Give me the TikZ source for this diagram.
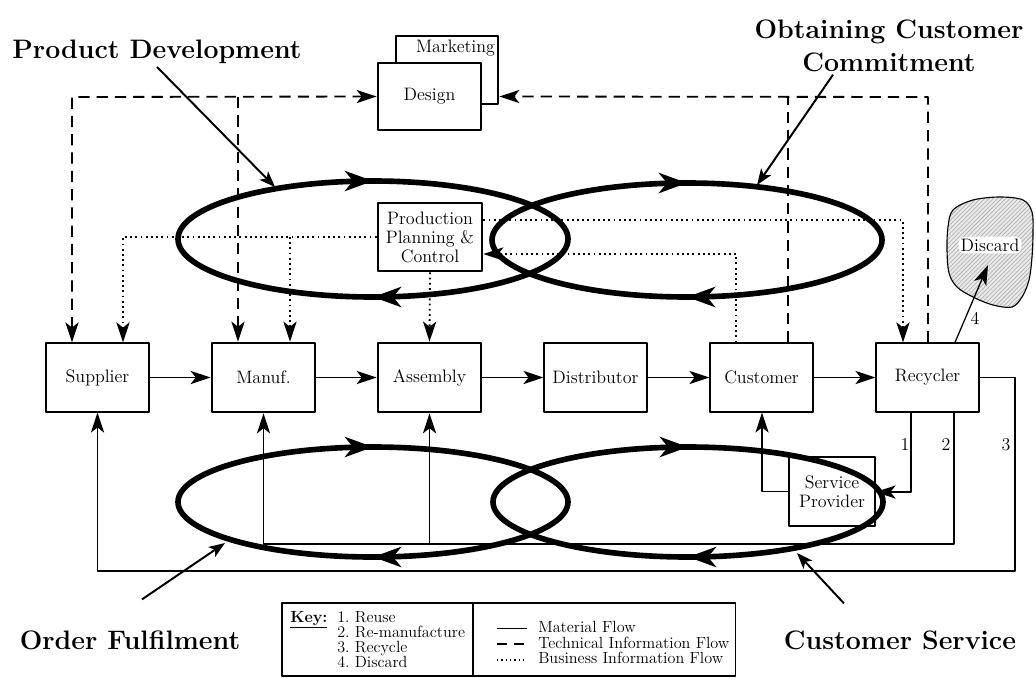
\documentclass[tikz,border=0pt]{standalone}
\usepackage{tikz}
\usetikzlibrary{arrows.meta, decorations.markings, patterns, positioning, calc}

\newcommand{\boxfont}{\fontsize{12.8}{13.5}\selectfont}
\newcommand{\titlefont}{\fontsize{19}{23}\selectfont\bfseries}
\newcommand{\keyfont}{\fontsize{11.5}{10.6}\selectfont}

\tikzset{
  flowbox/.style={draw, line width=0.9pt, minimum width=2.575cm, minimum height=1.725cm,
                  font=\boxfont, align=center, inner sep=1pt},
  heavybox/.style={flowbox, line width=2pt},
  tip/.style={-{Stealth[length=5mm, width=3.3mm, inset=1.3mm]}},
  mat/.style={line width=0.9pt, tip},
  tech/.style={line width=1.3pt, dash pattern=on 8pt off 5pt, tip},
  biz/.style={line width=1.3pt, dash pattern=on 1.3pt off 2.4pt, tip},
  pointer/.style={line width=1.4pt, -{Stealth[length=4mm, width=3mm, inset=1mm]}},
  ring/.style={line width=4pt, postaction={decorate},
    decoration={markings,
      mark=at position 0.25 with {\arrow{Stealth[length=7mm, width=5mm, inset=2mm]}},
      mark=at position 0.75 with {\arrow{Stealth[length=7mm, width=5mm, inset=2mm]}}}},
  title/.style={font=\titlefont, align=center, inner sep=2pt},
  num/.style={font=\boxfont, inner sep=1pt}
}

\begin{document}
\begin{tikzpicture}[x=0.025cm, y=-0.025cm, line join=round]

    % frame
    \useasboundingbox (0,0) rectangle (1036,677);

    % =========================
    % MAIN CHAIN
    % =========================
    \node[flowbox]  (supplier)    at (97.5,377.5)  {Supplier};
    \node[heavybox] (manuf)       at (263.5,377.5) {Manuf.};
    \node[heavybox] (assembly)    at (429.5,377.5) {Assembly};
    \node[flowbox]  (distributor) at (595.5,377.5) {Distributor};
    \node[flowbox]  (customer)    at (761.5,377.5) {Customer};
    \node[flowbox]  (recycler)    at (927.5,377.5) {Recycler};

    % =========================
    % UPPER BOXES
    % =========================
    \node[heavybox, minimum width=2.55cm, minimum height=1.7cm,
          label={[font=\boxfont, anchor=north east, inner sep=0pt, xshift=-3pt, yshift=-4pt]north east:Marketing}]
          (marketing) at (447,70) {};
    \node[heavybox, fill=white, minimum height=1.675cm] (design) at (429.5,96.5) {Design};
    \node[heavybox, minimum width=2.6cm, minimum height=1.7cm] (ppc) at (430,237)
          {Production\\Planning \&\\Control};
    \node[flowbox, minimum width=2.15cm] (service) at (832,491.5) {Service\\Provider};

    % =========================
    % DISCARD
    % =========================
    \draw[line width=0.8pt, preaction={fill=gray!18}, pattern=north east lines, pattern color=gray!65]
        plot[smooth cycle, tension=0.55] coordinates {
          (953,210) (973,200) (1000,197) (1023,200) (1032,212) (1033,233)
          (1032,257) (1029,280) (1022,297) (1012,307) (993,305) (973,297)
          (957,287) (949,273) (947,250) (948,227)};
    \node[fill=white, rounded corners=4pt, inner sep=1.5pt, font=\boxfont] (discard) at (990,245) {Discard};
    \coordinate (blob4) at (988,265);

    % =========================
    % HELPER POINTS
    % =========================
    \coordinate (techL) at (72,97);
    \coordinate (techM) at (238,97);
    \coordinate (techC) at (788,97);
    \coordinate (techR) at (928,97);
    \coordinate (bizL)  at (123,237);
    \coordinate (bizM)  at (290,237);
    \coordinate (bizR)  at (903,220);
    \coordinate (bizC)  at (736,254);
    \coordinate (r1)    at (911,492);
    \coordinate (r2)    at (954,544);
    \coordinate (r3)    at (1015,571);
    \coordinate (r4)    at (955,0);
    \coordinate (spC)   at (762,491.5);

    % =========================
    % TECHNICAL INFORMATION (dashed)
    % =========================
    \draw[tech, {Stealth[length=5mm, width=3.3mm, inset=1.3mm]}-{Stealth[length=5mm, width=3.3mm, inset=1.3mm]}]
        (supplier.north -| techL) -- (techL) -- (design.west);
    \draw[tech] (techM) -- (manuf.north -| techM);
    \draw[tech] (recycler.north -| techR) -- (techR) -- (marketing.east |- design.west);
    \draw[tech, -] (customer.north -| techC) -- (techC);

    % =========================
    % BUSINESS INFORMATION (dotted)
    % =========================
    \draw[biz] (ppc.west) -- (bizL) -- (supplier.north -| bizL);
    \draw[biz] (bizM) -- (manuf.north -| bizM);
    \draw[biz] (ppc.south) -- (assembly.north);
    \draw[biz] (ppc.east |- bizR) -- (bizR) -- (recycler.north -| bizR);
    \draw[biz] (customer.north -| bizC) -- (bizC) -- (ppc.east |- bizC);

    % =========================
    % MATERIAL FLOW
    % =========================
    \draw[mat] (supplier) -- (manuf);
    \draw[mat] (manuf) -- (assembly);
    \draw[mat] (assembly) -- (distributor);
    \draw[mat] (distributor) -- (customer);
    \draw[mat] (customer) -- (recycler);
    \draw[mat] (service.west) -- (spC) -- (customer.south -| spC);
    \draw[mat] (recycler.south -| r1) -- (r1) -- (service.east |- r1);
    \draw[mat] (recycler.south -| r2) -- (r2) -- (manuf.south |- r2) -- (manuf.south);
    \draw[mat] (assembly.south |- r2) -- (assembly.south);
    \draw[mat] (recycler.east) -- (recycler.east -| r3) -- (r3) -- (supplier.south |- r3) -- (supplier.south);
    \draw[mat] (recycler.north -| r4) -- (blob4);

    \node[num] at (905,445) {1};
    \node[num] at (946,445) {2};
    \node[num] at (1006,445) {3};
    \node[num] at (975,318) {4};

    % =========================
    % PROCESS LOOPS
    % =========================
    \draw[ring] (373,239) ellipse [x radius=195, y radius=58];
    \draw[ring] (687,240) ellipse [x radius=195, y radius=57];
    \draw[ring] (373,502) ellipse [x radius=195, y radius=55];
    \draw[ring] (688,502) ellipse [x radius=195, y radius=55];

    % =========================
    % LOOP NAMES
    % =========================
    \node[title] (pd)  at (157,52)  {Product Development};
    \node[title] (occ) at (889,46)  {Obtaining Customer\\Commitment};
    \node[title] (of)  at (130,640) {Order Fulfilment};
    \node[title] (cs)  at (900,640) {Customer Service};

    \coordinate (pdTip)  at (275,187);
    \coordinate (occTip) at (757,185);
    \coordinate (ofTip)  at (225,543);
    \coordinate (csTip)  at (797,553);

    \draw[pointer] (pd.south) -- (pdTip);
    \draw[pointer] ([xshift=-1.4cm]occ.south) -- (occTip);
    \draw[pointer] ([xshift=0.3cm, yshift=0.7cm]of.north) -- (ofTip);
    \draw[pointer] ([xshift=-1.4cm, yshift=0.6cm]cs.north) -- (csTip);

    % =========================
    % KEY
    % =========================
    \node[draw, line width=0.8pt, minimum width=11.325cm, minimum height=1.825cm, inner sep=0pt]
          (key) at (508.5,639.5) {};
    \draw[line width=0.8pt] (key.north -| 473,0) -- (key.south -| 473,0);

    \node[font=\keyfont, anchor=base west, inner sep=0pt] (keyhead) at (290,622) {\underline{\textbf{Key:}}};
    \node[font=\keyfont, anchor=north west, align=left, inner sep=0pt] (keylist) at (337,611)
          {1.\ Reuse\\2.\ Re-manufacture\\3.\ Recycle\\4.\ Discard};

    \draw[line width=0.7pt] (497,628) -- (527,628);
    \draw[line width=1.3pt, dash pattern=on 7pt off 5pt] (497,644) -- (527,644);
    \draw[line width=0.9pt, dash pattern=on 0.9pt off 2.2pt] (497,660) -- (527,660);
    \node[font=\keyfont, anchor=west, inner sep=0pt] (keymat)  at (538,627) {Material Flow};
    \node[font=\keyfont, anchor=west, inner sep=0pt] (keytech) at (538,643) {Technical Information Flow};
    \node[font=\keyfont, anchor=west, inner sep=0pt] (keybiz)  at (538,658) {Business Information Flow};

\end{tikzpicture}
\end{document}
